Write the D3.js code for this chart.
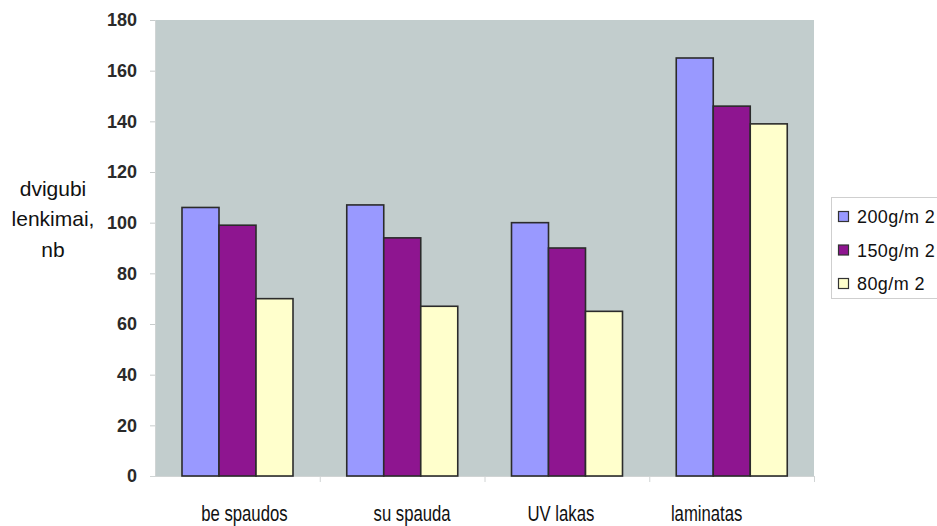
<!DOCTYPE html>
<html>
<head>
<meta charset="utf-8">
<script src="https://cdn.jsdelivr.net/npm/d3@7"></script>
<style>
  body { margin: 0; background: #fff; }
  svg { display: block; font-family: "Liberation Sans", Arial, sans-serif; }
</style>
</head>
<body>
<svg id="chart" width="937" height="526"></svg>
<script>
// Categories, series and values
const categories = ["be spaudos", "su spauda", "UV lakas", "laminatas"];
const seriesNames = ["200g/m 2", "150g/m 2", "80g/m 2"];
const values200 = [106, 107, 100, 165];
const values150 = [99, 94, 90, 146];
const values80 = [70, 67, 65, 139];
const yTicks = [0, 20, 40, 60, 80, 100, 120, 140, 160, 180];
const axisTitle = ["dvigubi", "lenkimai,", "nb"];

const seriesValues = [values200, values150, values80];
const colors = ["#9999FF", "#8E1590", "#FFFFCC"];

const svg = d3.select("#chart");
const plot = { left: 155, right: 814, top: 20, bottom: 476 };

const x = d3.scaleBand().domain(categories).range([plot.left, plot.right]).padding(0);
const xInner = d3.scaleBand().domain(seriesNames).range([27, 138]).padding(0);
const y = d3.scaleLinear().domain([0, 180]).range([plot.bottom, plot.top]);

// Plot background
svg.append("rect")
  .attr("x", plot.left).attr("y", plot.top)
  .attr("width", plot.right - plot.left).attr("height", plot.bottom - plot.top)
  .attr("fill", "#C2CDCD");

// Y axis
const yAxis = svg.append("g")
  .attr("transform", `translate(${plot.left},0)`)
  .call(d3.axisLeft(y).tickValues(yTicks).tickSize(5).tickPadding(13));
yAxis.select(".domain").attr("stroke", "#d0d4d4");
yAxis.selectAll(".tick line").attr("stroke", "#c8cccc");
yAxis.selectAll(".tick text")
  .attr("font-size", 18).attr("font-weight", "bold").attr("fill", "#2a2a2a")
  .attr("font-family", "'Liberation Sans', Arial, sans-serif");

// X axis (line and boundary ticks, labels drawn separately)
svg.append("line")
  .attr("x1", plot.left - 5).attr("x2", plot.right)
  .attr("y1", plot.bottom + 0.5).attr("y2", plot.bottom + 0.5)
  .attr("stroke", "#d0d4d4");
const bounds = categories.slice(1).map(c => x(c)).concat([plot.right]);
svg.selectAll("line.xtick").data(bounds).join("line")
  .attr("class", "xtick")
  .attr("x1", d => d + 0.5).attr("x2", d => d + 0.5)
  .attr("y1", plot.bottom).attr("y2", plot.bottom + 6)
  .attr("stroke", "#d0d4d4");

// Bars
const groups = svg.selectAll("g.cat").data(categories).join("g")
  .attr("class", "cat")
  .attr("transform", d => `translate(${x(d)},0)`);
groups.selectAll("rect").data((c, i) => seriesNames.map((s, j) => ({ s, j, v: seriesValues[j][i] })))
  .join("rect")
  .attr("x", d => xInner(d.s))
  .attr("y", d => y(d.v))
  .attr("width", xInner.bandwidth())
  .attr("height", d => y(0) - y(d.v))
  .attr("fill", d => colors[d.j])
  .attr("stroke", "#2b2b2b")
  .attr("stroke-width", 1.6);

// Category labels (narrow, tall lettering)
const labelNudge = [7, 10, -6, -25];
svg.selectAll("text.cat").data(categories).join("text")
  .attr("class", "cat")
  .attr("transform", (d, i) =>
    `translate(${x(d) + x.bandwidth() / 2 + labelNudge[i]},521) scale(0.76,1)`)
  .attr("text-anchor", "middle")
  .attr("font-size", 22)
  .attr("fill", "#111")
  .text(d => d);

// Y axis title
const titleBase = [196, 226, 257];
svg.append("text")
  .attr("text-anchor", "middle")
  .attr("font-size", 21).attr("fill", "#111")
  .selectAll("tspan").data(axisTitle).join("tspan")
  .attr("x", 53)
  .attr("y", (d, i) => titleBase[i])
  .text(d => d);

// Legend
const legend = svg.append("g");
legend.append("rect")
  .attr("x", 831.5).attr("y", 197.5).attr("width", 120).attr("height", 101)
  .attr("fill", "#fff").attr("stroke", "#cfcfcf");
const items = legend.selectAll("g.item").data(seriesNames).join("g")
  .attr("class", "item")
  .attr("transform", (d, i) => `translate(0,${223 + i * 33.5})`);
items.append("rect")
  .attr("x", 838.5).attr("y", -11.5).attr("width", 10).attr("height", 10)
  .attr("fill", (d, i) => colors[i]).attr("stroke", "#333").attr("stroke-width", 1.2);
items.append("text")
  .attr("x", 857).attr("y", 0)
  .attr("font-size", 18).attr("fill", "#111")
  .attr("letter-spacing", 0.4)
  .text(d => d);
</script>
</body>
</html>
